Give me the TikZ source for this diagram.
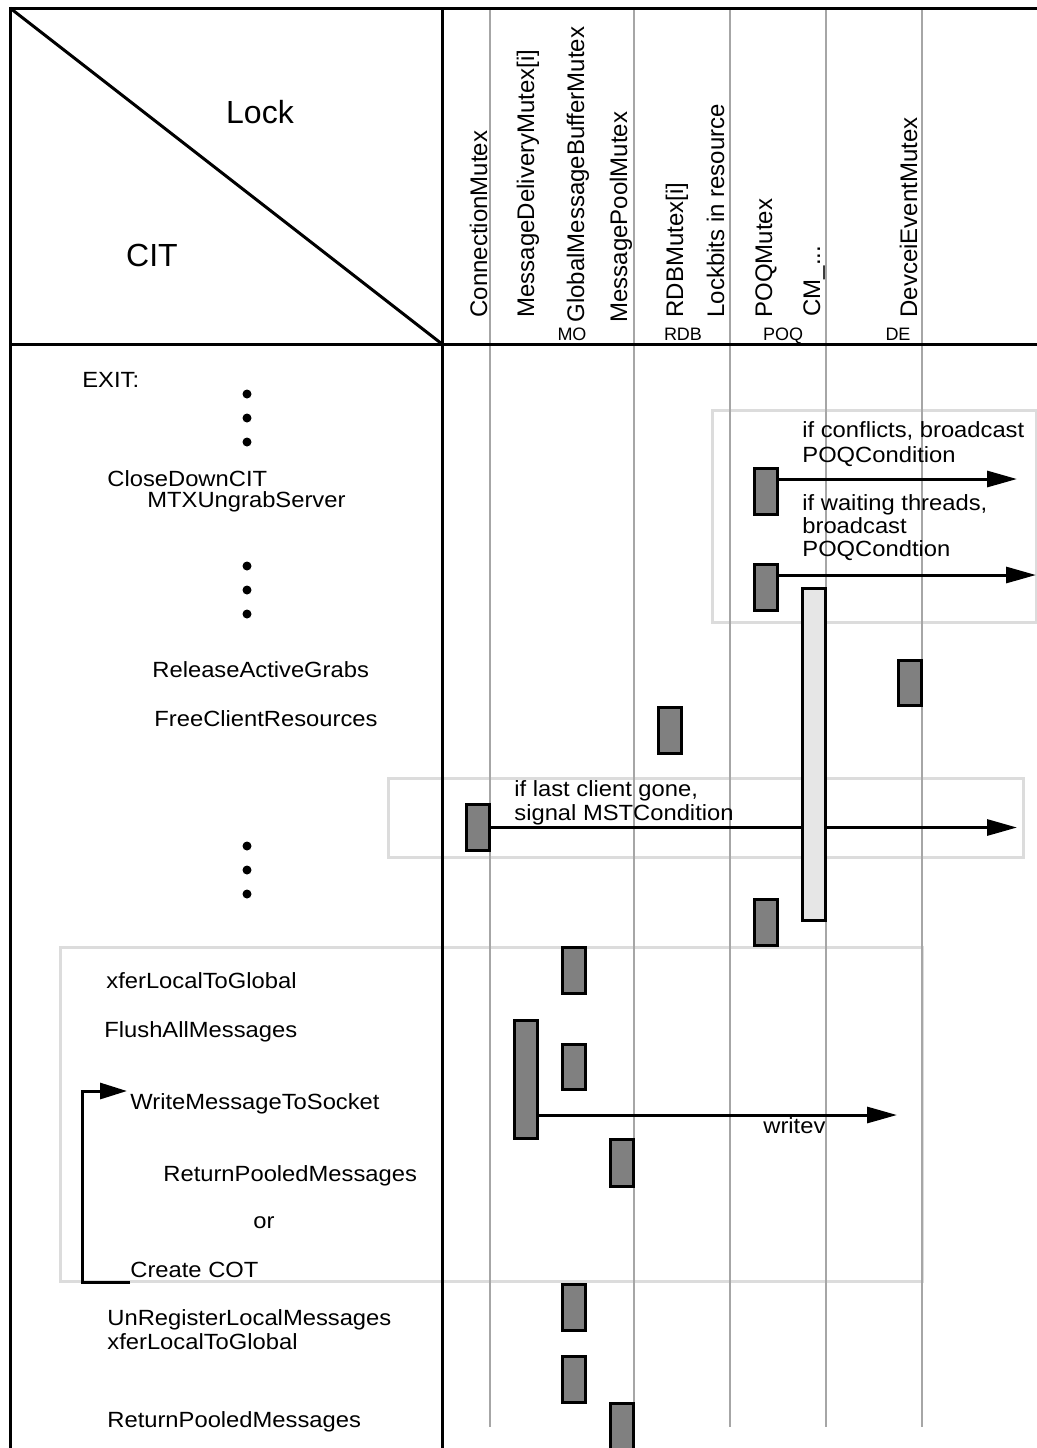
\documentclass[tikz,border=0pt]{standalone}
\usepackage{fontspec}
\setmainfont{Liberation Sans}
\newfontfamily\lblfont[FakeStretch=1.08]{Liberation Sans}
\usetikzlibrary{arrows.meta}

\definecolor{gridgrey}{HTML}{A6A6A6}
\definecolor{groupgrey}{HTML}{DCDCDC}
\definecolor{bardark}{HTML}{808080}
\definecolor{barlight}{HTML}{E6E6E6}

\begin{document}
\begin{tikzpicture}[x=0.5pt,y=-0.5pt,
  frame/.style={line width=1.5pt},
  grid/.style={line width=1pt, draw=gridgrey},
  group/.style={line width=1.5pt, draw=groupgrey},
  bar/.style={draw, line width=1.5pt, fill=bardark, minimum width=11.5pt, inner sep=0pt},
  longbar/.style={bar, fill=barlight},
  msg/.style={line width=1.5pt, -{Triangle[length=15pt,width=8pt]}},
  lbl/.style={font=\lblfont\fontsize{11}{13}\selectfont, anchor=base west, inner sep=0pt},
  col/.style={font=\fontsize{12}{14}\selectfont, rotate=90, anchor=base west, inner sep=0pt},
  tag/.style={font=\fontsize{9}{10}\selectfont, anchor=base, inner sep=0pt},
  corner/.style={font=\fontsize{16}{18}\selectfont, inner sep=0pt},
  dot/.style={circle, fill, inner sep=0pt, minimum size=4.5pt}
]
\useasboundingbox (0,0) rectangle (1037,1448);

% grouping frames
\draw[group] (712,410) rectangle (1036,622);
\draw[group] (388,778) rectangle (1023,857);
\draw[group] (60,947) rectangle (922,1281);

% lock columns
\foreach \x in {490,634,730,826,922}
  \draw[grid] (\x,8) -- (\x,1427);

% table frame
\draw[frame] (10,1448) -- (10,8) -- (1037,8);
\draw[frame] (10,344) -- (1037,344);
\draw[frame] (442,8) -- (442,1448);
\draw[frame] (10,8) -- (442,344);

% corner captions
\node[corner] (lock) at (260,112) {Lock};
\node[corner] (cit) at (152,255) {CIT};

% column headings
\node[col] (h1) at (487,318) {ConnectionMutex};
\node[col] (h2) at (534,318) {MessageDeliveryMutex[i]};
\node[col] (h3) at (584,323) {GlobalMessageBufferMutex};
\node[col] (h4) at (627,323) {MessagePoolMutex};
\node[col] (h5) at (683,318) {RDBMutex[i]};
\node[col] (h6) at (724,318) {Lockbits in resource};
\node[col] (h7) at (772,318) {POQMutex};
\node[col] (h8) at (820,317) {CM\_...};
\node[col] (h9) at (917,318) {DevceiEventMutex};
\node[tag] (tMO) at (572,340) {MO};
\node[tag] (tRDB) at (683,340) {RDB};
\node[tag] (tPOQ) at (783,340) {POQ};
\node[tag] (tDE) at (898,340) {DE};

% call sequence
\node[lbl] (exit) at (82,387) {EXIT:};
\node[dot] (d1) at (247,394) {};
\node[dot] (d2) at (247,418) {};
\node[dot] (d3) at (247,442) {};
\node[lbl] (close) at (107,486) {CloseDownCIT};
\node[lbl] (ungrab) at (147,507) {MTXUngrabServer};
\node[dot] (d4) at (247,566) {};
\node[dot] (d5) at (247,590) {};
\node[dot] (d6) at (247,614) {};
\node[lbl] (release) at (152,677) {ReleaseActiveGrabs};
\node[lbl] (freecr) at (154,726) {FreeClientResources};
\node[dot] (d7) at (247,846) {};
\node[dot] (d8) at (247,870) {};
\node[dot] (d9) at (247,894) {};
\node[lbl] (xfer1) at (106,988) {xferLocalToGlobal};
\node[lbl] (flush) at (104,1037) {FlushAllMessages};
\node[lbl] (wms) at (130,1109) {WriteMessageToSocket};
\node[lbl] (rpm1) at (163,1181) {ReturnPooledMessages};
\node[lbl] (or) at (253,1228) {or};
\node[lbl] (cot) at (130,1277) {Create COT};
\node[lbl] (unreg) at (107,1325) {UnRegisterLocalMessages};
\node[lbl] (xfer2) at (107,1349) {xferLocalToGlobal};
\node[lbl] (rpm2) at (107,1427) {ReturnPooledMessages};

% message notes
\node[lbl] (n1a) at (802,437) {if conflicts, broadcast};
\node[lbl] (n1b) at (802,462) {POQCondition};
\node[lbl] (n2a) at (802,510) {if waiting threads,};
\node[lbl] (n2b) at (802,533) {broadcast};
\node[lbl] (n2c) at (802,556) {POQCondtion};
\node[lbl] (n3a) at (514,796) {if last client gone,};
\node[lbl] (n3b) at (514,820) {signal MSTCondition};
\node[lbl] (n4) at (763,1133) {writev};

% messages
\coordinate (e1) at (1017,479);
\coordinate (e2) at (1036,575);
\coordinate (e3) at (1017,827.5);
\coordinate (e4) at (897,1115);
\coordinate (loopstart) at (130,1282);
\coordinate (loopend) at (127,1091);

% lock hold bars
\node[bar, minimum height=23pt] (b1) at (766,491.5) {};
\node[bar, minimum height=23pt] (b2) at (766,587.5) {};
\node[bar, minimum height=23pt] (b6) at (478,827.5) {};
\node[bar, minimum height=59pt] (b9) at (525.5,1079.5) {};

\draw[msg] (b1.east |- e1) -- (e1);
\draw[msg] (b2.east |- e2) -- (e2);
\draw[msg] (b6.east) -- (e3);
\draw[msg] (b9.east |- e4) -- (e4);
\draw[line width=1.5pt, -{Triangle[length=13.5pt,width=8pt]}]
  (loopstart) -- ++(-48,0) |- (loopend);

\node[longbar, minimum height=166pt] (bcm) at (813.5,754.5) {};
\node[bar, minimum height=22.5pt] (b4) at (910,683) {};
\node[bar, minimum height=23pt] (b5) at (670,730.5) {};
\node[bar, minimum height=23pt] (b7) at (766,922.5) {};
\node[bar, minimum height=23pt] (b8) at (574,970.5) {};
\node[bar, minimum height=22.5pt] (b10) at (574,1067) {};
\node[bar, minimum height=23.5pt] (b11) at (622,1163) {};
\node[bar, minimum height=23pt] (b12) at (574,1307.5) {};
\node[bar, minimum height=23pt] (b13) at (574,1379.5) {};
\node[bar, minimum height=23.5pt] (b14) at (622,1427) {};
\end{tikzpicture}
\end{document}
